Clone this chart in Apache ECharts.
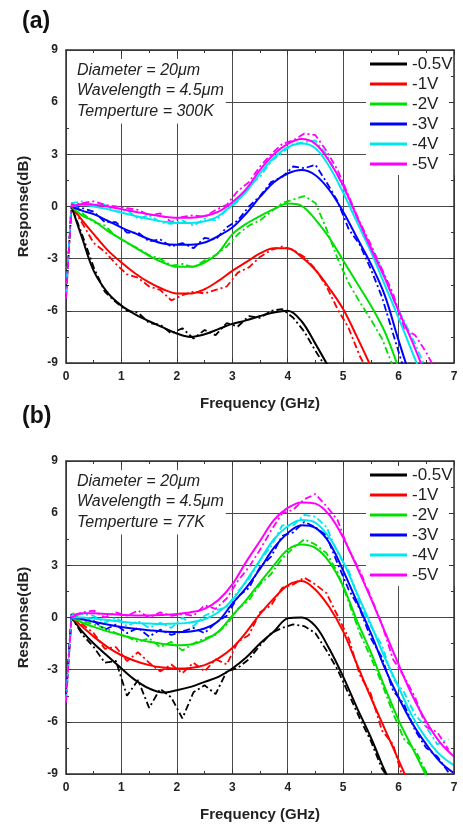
<!DOCTYPE html>
<html>
<head>
<meta charset="utf-8">
<script src="https://cdn.jsdelivr.net/npm/echarts@6/dist/echarts.min.js"></script>
<style>
  html, body { margin: 0; padding: 0; background: #fff; }
  #chart { width: 463px; height: 824px; }
</style>
</head>
<body>
<div id="chart"></div>
<script>
// bias voltages (legend order) and their colours
const voltages = ['-0.5V', '-1V', '-2V', '-3V', '-4V', '-5V']
const colors = ['#000000', '#ff0000', '#00e000', '#0000ff', '#00e5ee', '#ff00ff']

// x positions (GHz) of the fitted curves and of the measured points
const fitFreq = [0.1, 0.3, 0.5, 0.75, 1.0, 1.25, 1.5, 1.75, 2.0, 2.25, 2.5, 2.75, 3.0, 3.25, 3.5,
  3.75, 4.0, 4.25, 4.5, 4.75, 5.0, 5.25, 5.5, 5.75, 6.0, 6.25, 6.5, 6.75, 7.0]
const measFreq = [0, 0.1, 0.3, 0.5, 0.7, 0.9, 1.1, 1.3, 1.5, 1.7, 1.9, 2.1, 2.3, 2.5, 2.7, 2.9,
  3.1, 3.3, 3.5, 3.7, 3.9, 4.1, 4.3, 4.5, 4.7, 4.9, 5.1, 5.3, 5.5, 5.7, 5.9, 6.1, 6.3, 6.5, 6.7, 6.9]

// (a) 300K - fitted response (dB)
const fitA_05 = [0, -1.9, -3.7, -4.95, -5.7, -6.2, -6.6, -6.95, -7.3, -7.5, -7.35, -7.05, -6.75, -6.55, -6.3, -6.1, -6.0, -6.6, -7.9, -9.3]
const fitA_1 = [0, -0.82, -1.59, -2.51, -3.22, -3.85, -4.37, -4.76, -5.0, -5.0, -4.76, -4.28, -3.7, -3.2, -2.7, -2.4, -2.4, -2.9, -3.65, -4.7, -5.9, -7.5, -9.2]
const fitA_2 = [0, -0.54, -0.82, -1.4, -1.88, -2.36, -2.84, -3.22, -3.47, -3.47, -3.22, -2.65, -1.6, -1.0, -0.55, -0.15, 0.17, 0.04, -0.75, -1.8, -3.1, -4.4, -5.7, -7.2, -9.3]
const fitA_3 = [0, -0.25, -0.44, -0.82, -1.21, -1.55, -1.88, -2.13, -2.2, -2.2, -2.07, -1.69, -1.21, -0.4, 0.55, 1.4, 1.9, 2.1, 1.8, 0.95, -0.3, -1.8, -3.3, -5.1, -7.7, -10.2]
const fitA_4 = [0, 0.1, 0.0, -0.15, -0.35, -0.55, -0.72, -0.87, -0.95, -0.95, -0.85, -0.55, 0.1, 0.85, 1.9, 2.8, 3.4, 3.62, 3.35, 2.3, 0.8, -0.9, -2.6, -4.5, -6.4, -8.4, -10.3]
const fitA_5 = [0, 0.15, 0.1, 0.0, -0.15, -0.3, -0.45, -0.58, -0.65, -0.65, -0.55, -0.3, 0.25, 1.0, 2.1, 3.0, 3.6, 3.88, 3.6, 2.6, 1.2, -0.6, -2.4, -4.1, -6.0, -7.8, -9.8]

// (a) 300K - measured response (dB)
const measA_05 = [-5.2, 0, -1.7, -3.5, -4.9, -5.5, -6.0, -6.1, -6.7, -6.8, -7.3, -7.0, -7.6, -7.1, -7.4, -6.7, -6.9, -6.3, -6.4, -6.0, -5.9, -6.4, -7.2, -8.3, -9.3]
const measA_1 = [-5.0, 0, -1.0, -2.1, -2.6, -3.3, -3.9, -4.1, -4.6, -4.8, -5.4, -5.1, -4.9, -5.0, -4.8, -4.6, -3.8, -3.5, -2.9, -2.5, -2.3, -2.5, -2.9, -3.6, -4.6, -5.9, -7.0, -8.6, -9.8]
const measA_2 = [-5.0, 0.2, -0.4, -0.9, -1.1, -1.7, -2.1, -2.4, -2.8, -3.0, -3.4, -3.3, -3.5, -3.1, -2.8, -2.3, -1.6, -1.1, -0.8, -0.3, 0.2, 0.4, 0.6, 0.2, -1.3, -3.0, -4.4, -5.5, -6.5, -7.6, -9.2]
const measA_3 = [-5.0, 0.1, -0.1, -0.3, -0.9, -0.9, -1.5, -1.5, -2.0, -1.9, -2.3, -2.1, -2.4, -1.8, -1.9, -1.2, -0.8, 0.0, 0.6, 1.4, 1.7, 2.3, 2.2, 2.4, 1.4, 0.3, -1.3, -2.2, -3.6, -5.2, -7.3, -9.4]
const measA_4 = [-5.0, 0.2, 0.3, 0.1, 0.1, -0.3, -0.2, -0.7, -0.5, -0.9, -1.0, -0.8, -1.1, -0.7, -0.8, -0.2, 0.3, 1.2, 1.7, 2.6, 3.1, 3.6, 3.7, 3.8, 3.0, 1.8, 0.4, -1.0, -2.3, -3.6, -5.3, -6.6, -7.9, -9.4]
const measA_5 = [-5.3, 0.1, 0.2, 0.3, 0.1, 0.0, -0.1, -0.2, -0.5, -0.4, -0.9, -0.6, -0.5, -0.6, -0.2, 0.1, 0.9, 1.4, 2.3, 3.0, 3.6, 3.8, 4.2, 4.1, 3.2, 2.1, 0.6, -0.9, -2.2, -3.6, -5.0, -7.0, -7.4, -8.4, -9.6]

// (b) 77K - fitted response (dB)
const fitB_05 = [0, -0.83, -1.5, -2.22, -2.93, -3.6, -4.08, -4.31, -4.18, -3.99, -3.7, -3.41, -2.93, -2.3, -1.5, -0.8, -0.05, 0.0, -0.5, -1.8, -3.4, -5.2, -6.9, -8.8, -10.5]
const fitB_1 = [0, -0.55, -1.1, -1.7, -2.17, -2.5, -2.74, -2.88, -2.93, -2.9, -2.74, -2.35, -1.75, -0.85, 0.2, 1.1, 1.85, 2.1, 1.6, 0.6, -0.8, -2.7, -4.6, -6.4, -8.2, -10.0]
const fitB_2 = [0, -0.3, -0.54, -0.8, -1.02, -1.22, -1.4, -1.52, -1.59, -1.55, -1.3, -0.8, 0.1, 1.0, 2.0, 3.0, 3.9, 4.2, 4.0, 3.2, 1.8, -0.2, -2.0, -4.0, -5.9, -7.5, -9.1]
const fitB_3 = [0, -0.1, -0.25, -0.4, -0.54, -0.65, -0.73, -0.8, -0.83, -0.8, -0.63, -0.2, 0.8, 1.7, 2.8, 4.0, 4.85, 5.3, 5.15, 4.3, 2.7, 0.9, -0.9, -2.9, -4.6, -6.1, -7.3, -8.3, -8.95]
const fitB_4 = [0, 0.0, -0.06, -0.15, -0.25, -0.32, -0.35, -0.37, -0.35, -0.28, -0.1, 0.3, 1.0, 2.1, 3.3, 4.5, 5.25, 5.6, 5.45, 4.6, 3.2, 1.4, -0.4, -2.3, -4.0, -5.7, -6.95, -7.9, -8.5]
const fitB_5 = [0, 0.25, 0.25, 0.2, 0.15, 0.12, 0.12, 0.15, 0.2, 0.3, 0.5, 1.0, 1.9, 3.2, 4.4, 5.6, 6.3, 6.62, 6.55, 5.9, 4.6, 2.9, 1.1, -0.8, -2.7, -4.5, -6.0, -7.2, -8.0]

// (b) 77K - measured response (dB)
const measB_05 = [-4.5, 0, -1.0, -1.7, -2.6, -2.5, -4.5, -3.6, -5.2, -4.1, -4.6, -5.8, -4.3, -3.9, -4.4, -3.1, -2.9, -2.4, -1.6, -0.9, -0.6, -0.4, -0.5, -0.9, -1.9, -3.0, -4.4, -5.8, -7.1, -8.7, -9.6]
const measB_1 = [-4.5, 0, -0.4, -0.9, -1.8, -1.7, -2.5, -2.0, -2.6, -3.1, -2.7, -3.2, -2.6, -3.1, -2.4, -2.7, -1.4, -1.0, 0.3, 0.7, 1.7, 1.9, 2.3, 1.9, 1.4, 0.1, -1.2, -3.3, -4.4, -6.5, -7.3, -9.5]
const measB_2 = [-4.8, 0.3, -0.2, -0.4, -0.6, -0.9, -1.1, -1.4, -1.2, -1.7, -1.4, -1.9, -1.5, -1.2, -1.0, -0.4, 0.5, 1.0, 1.9, 2.5, 3.4, 4.0, 4.5, 4.2, 3.7, 2.6, 0.9, -0.9, -2.3, -3.8, -5.5, -7.0, -7.6, -8.9, -9.6]
const measB_3 = [-4.5, 0.2, -0.1, -0.2, -0.7, -0.4, -0.9, -0.6, -1.1, -0.7, -1.0, -0.8, -0.6, -0.9, -0.3, 0.1, 1.2, 1.7, 2.9, 3.5, 4.7, 4.9, 5.5, 5.2, 4.7, 3.1, 1.6, 0.5, -1.2, -2.3, -4.2, -5.0, -6.5, -7.5, -8.0, -8.9]
const measB_4 = [-4.8, 0.1, 0.2, 0.1, -0.3, 0.0, -0.5, -0.2, -0.6, -0.3, -0.6, 0.0, -0.5, 0.1, 0.4, 0.6, 1.5, 2.2, 3.3, 4.1, 5.3, 5.3, 5.9, 5.8, 5.2, 3.7, 2.7, 0.8, -0.5, -1.6, -3.5, -4.3, -5.6, -6.3, -7.3, -7.0]
const measB_5 = [-4.9, 0.1, 0.3, 0.4, 0.0, 0.3, 0.1, 0.4, 0.0, 0.3, 0.1, 0.2, 0.1, 0.7, 0.5, 1.1, 2.1, 2.9, 3.9, 5.0, 6.0, 6.2, 6.8, 7.1, 6.4, 5.6, 3.9, 2.7, 1.2, -0.4, -2.4, -3.4, -4.6, -6.3, -6.6, -7.6]

const font = '"Liberation Sans", Arial, sans-serif'
const frameColor = '#333'

function zip (xs, ys) {
  return ys.map((y, i) => [xs[i], y])
}

// one solid fitted line + one dash-dot measured line per voltage
function panelSeries (fits, meas, axis) {
  const out = []
  voltages.forEach((name, i) => {
    out.push({
      name,
      type: 'line',
      xAxisIndex: axis,
      yAxisIndex: axis,
      data: zip(fitFreq, fits[i]),
      smooth: 0.35,
      symbol: 'none',
      z: 3,
      itemStyle: { color: colors[i] },
      lineStyle: { color: colors[i], width: 2 }
    })
    out.push({
      name: name + ' measured',
      type: 'line',
      xAxisIndex: axis,
      yAxisIndex: axis,
      data: zip(measFreq, meas[i]),
      symbol: 'none',
      z: 2,
      itemStyle: { color: colors[i] },
      lineStyle: { color: colors[i], width: 1.8, type: [7, 3, 2, 3] }
    })
  })
  return out
}

function xAxis (grid, top) {
  return {
    type: 'value',
    gridIndex: grid,
    position: top ? 'top' : 'bottom',
    min: 0,
    max: 7,
    interval: 1,
    name: top ? '' : 'Frequency (GHz)',
    nameLocation: 'middle',
    nameGap: 33,
    nameTextStyle: { fontFamily: font, fontSize: 15, fontWeight: 'bold', color: '#222', verticalAlign: 'top' },
    axisLine: { show: true, onZero: false, lineStyle: { color: frameColor, width: 1.5 } },
    axisTick: { show: true, inside: true, length: 5, lineStyle: { color: frameColor } },
    minorTick: { show: true, splitNumber: 2, length: 3, lineStyle: { color: frameColor } },
    axisLabel: { show: !top, margin: 8, fontFamily: font, fontSize: 12, fontWeight: 'bold', color: '#222' },
    splitLine: { show: !top, lineStyle: { color: '#4a4a4a', width: 1 } },
    z: top ? 6 : 0
  }
}

function yAxis (grid, right) {
  return {
    type: 'value',
    gridIndex: grid,
    position: right ? 'right' : 'left',
    min: -9,
    max: 9,
    interval: 3,
    name: right ? '' : 'Response(dB)',
    nameLocation: 'middle',
    nameGap: 35,
    nameTextStyle: { fontFamily: font, fontSize: 15, fontWeight: 'bold', color: '#222' },
    axisLine: { show: true, onZero: false, lineStyle: { color: frameColor, width: 1.5 } },
    axisTick: { show: true, inside: true, length: 5, lineStyle: { color: frameColor } },
    minorTick: { show: true, splitNumber: 2, length: 3, lineStyle: { color: frameColor } },
    axisLabel: { show: !right, margin: 8, fontFamily: font, fontSize: 12, fontWeight: 'bold', color: '#222' },
    splitLine: { show: !right, lineStyle: { color: '#4a4a4a', width: 1 } },
    z: right ? 6 : 0
  }
}

function legend (top) {
  return {
    data: voltages,
    orient: 'vertical',
    left: 366,
    top,
    icon: 'rect',
    itemWidth: 37,
    itemHeight: 3,
    itemGap: 0,
    padding: [3, 2, 1, 4],
    backgroundColor: '#fff',
    selectedMode: false,
    textStyle: { fontFamily: font, fontSize: 17, lineHeight: 20, color: '#222' }
  }
}

function note (top, temp) {
  return {
    type: 'text',
    left: 67,
    top,
    z: 5,
    style: {
      text: 'Diameter = 20μm\nWavelength = 4.5μm\nTemperture = ' + temp,
      fontFamily: font,
      fontSize: 16,
      fontStyle: 'italic',
      lineHeight: 20.5,
      fill: '#222',
      backgroundColor: '#fff',
      padding: [1, 2, 2, 10]
    }
  }
}

function panelLabel (top, text) {
  return {
    type: 'text',
    left: 22,
    top,
    style: { text, fontFamily: font, fontSize: 23, fontWeight: 'bold', fill: '#111' }
  }
}

const chart = echarts.init(document.getElementById('chart'), null, { renderer: 'canvas' })

chart.setOption({
  animation: false,
  backgroundColor: '#fff',
  grid: [
    { left: 66, top: 50, width: 388, height: 313 },
    { left: 66, top: 461, width: 388, height: 313 }
  ],
  xAxis: [xAxis(0, false), xAxis(0, true), xAxis(1, false), xAxis(1, true)],
  yAxis: [yAxis(0, false), yAxis(0, true), yAxis(1, false), yAxis(1, true)],
  legend: [legend(51), legend(462)],
  graphic: [
    panelLabel(10, '(a)'),
    panelLabel(405, '(b)'),
    note(59, '300K'),
    note(470, '77K')
  ],
  series: [
    ...panelSeries([fitA_05, fitA_1, fitA_2, fitA_3, fitA_4, fitA_5],
      [measA_05, measA_1, measA_2, measA_3, measA_4, measA_5], 0),
    ...panelSeries([fitB_05, fitB_1, fitB_2, fitB_3, fitB_4, fitB_5],
      [measB_05, measB_1, measB_2, measB_3, measB_4, measB_5], 2)
  ]
})
</script>
</body>
</html>
